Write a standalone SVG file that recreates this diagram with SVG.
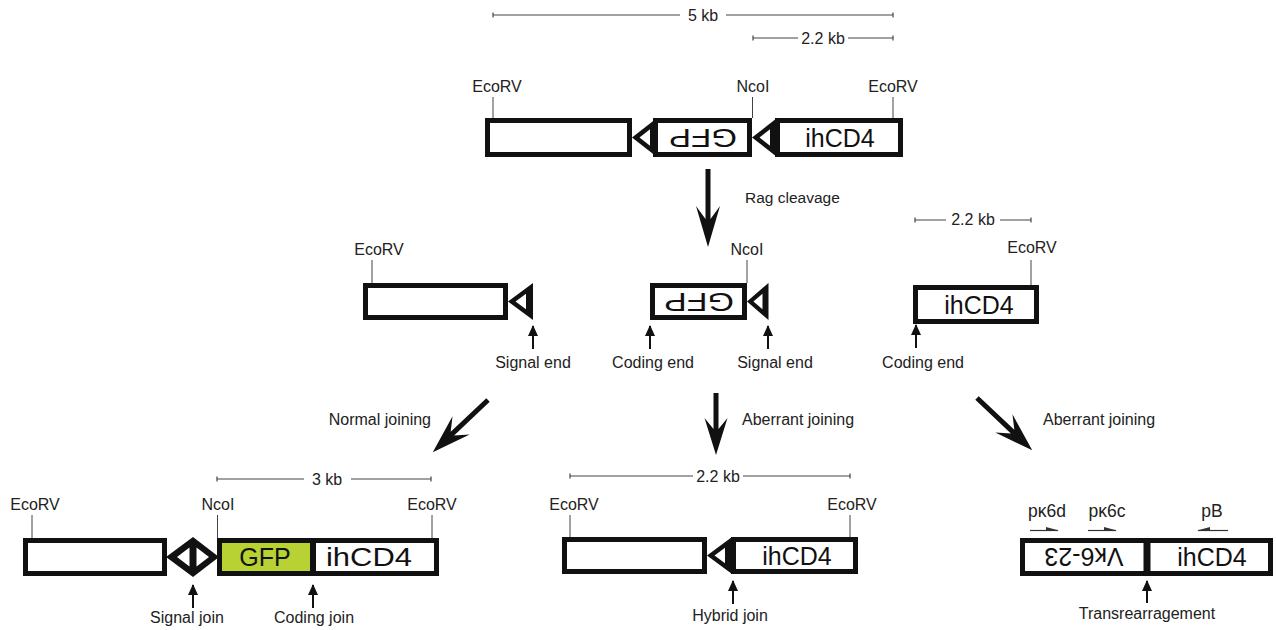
<svg xmlns="http://www.w3.org/2000/svg" width="1276" height="630" viewBox="0 0 1276 630">
<style>
text{font-family:"Liberation Sans",Arial,sans-serif;fill:#222;}
.lbl{font-size:16px;}
.sm{font-size:15.5px;}
.pr{font-size:17.5px;}
.big{font-size:25px;fill:#111;}
.box{fill:#fff;stroke:#111;stroke-width:5;}
.tick{stroke:#444;stroke-width:1;fill:none;}
.bar{stroke:#444;stroke-width:1.2;fill:none;}
.up{stroke:#111;stroke-width:2;fill:none;marker-end:url(#ah);}
.big-arrow{fill:#111;}
</style>
<defs>
<marker id="ah" markerUnits="userSpaceOnUse" markerWidth="11" markerHeight="11" refX="10" refY="5.5" orient="auto">
<path d="M0,0.5 L11,5.5 L0,10.5 Z" fill="#111"/>
</marker>
<g id="rss">
<polygon points="0,19.5 25,0 25,39" fill="#111"/>
<polygon points="7.5,19.5 18,11.3 18,27.7" fill="#fff"/>
</g>
</defs>

<!-- Top construct -->
<g id="scale-top">
<path class="bar" d="M493,15 H680 M726,15 H893 M493,12.5 V17.5 M893,12.5 V17.5"/>
<text class="lbl" x="703" y="21" text-anchor="middle">5 kb</text>
<path class="bar" d="M753,38 H798 M848,38 H893 M753,35.5 V40.5 M893,35.5 V40.5"/>
<text class="lbl" x="823" y="44" text-anchor="middle">2.2 kb</text>
</g>
<g id="top-construct">
<text class="lbl" x="497" y="92" text-anchor="middle">EcoRV</text>
<line class="tick" x1="493" y1="97" x2="493" y2="118"/>
<text class="lbl" x="753" y="92" text-anchor="middle">NcoI</text>
<line class="tick" x1="752.5" y1="97" x2="752.5" y2="118"/>
<text class="lbl" x="893" y="92" text-anchor="middle">EcoRV</text>
<line class="tick" x1="893" y1="97" x2="893" y2="118"/>
<rect class="box" x="487.5" y="120.5" width="142" height="34"/>
<rect class="box" x="655.5" y="120.5" width="94" height="34"/>
<rect class="box" x="777.5" y="120.5" width="123" height="34"/>
<use href="#rss" x="632" y="118"/>
<use href="#rss" x="752" y="118"/>
<text class="big" transform="translate(703,137.5) rotate(180)" y="9" text-anchor="middle" textLength="68" lengthAdjust="spacingAndGlyphs">GFP</text>
<text class="big" x="840" y="146.5" text-anchor="middle">ihCD4</text>
</g>

<!-- Connectors -->
<g id="connectors">
<path class="big-arrow" transform="translate(708,169)" d="M-2.5,0 L2.5,0 L2.5,50 L12,37 L0,78 L-12,37 L-2.5,50 Z"/>
<path class="big-arrow" transform="translate(488,400) rotate(46.6)" d="M-2.5,0 L2.5,0 L2.5,49 L12.5,37 L0,76 L-12.5,37 L-2.5,49 Z"/>
<path class="big-arrow" transform="translate(716,393)" d="M-2.5,0 L2.5,0 L2.5,36 L11.5,25 L0,62 L-11.5,25 L-2.5,36 Z"/>
<path class="big-arrow" transform="translate(977,398) rotate(-46.6)" d="M-2.5,0 L2.5,0 L2.5,49 L12.5,37 L0,76 L-12.5,37 L-2.5,49 Z"/>
</g>
<text class="sm" x="745" y="203">Rag cleavage</text>
<text class="lbl" x="431" y="425" text-anchor="end">Normal joining</text>
<text class="lbl" x="742" y="425">Aberrant joining</text>
<text class="lbl" x="1043" y="425">Aberrant joining</text>

<!-- Middle row -->
<g id="mid-left">
<text class="lbl" x="379" y="255" text-anchor="middle">EcoRV</text>
<line class="tick" x1="372" y1="260" x2="372" y2="283"/>
<rect class="box" x="365.5" y="285.5" width="140" height="32"/>
<use href="#rss" transform="translate(508,283) scale(1,0.949)"/>
<line class="up" x1="533" y1="349" x2="533" y2="326"/>
<text class="lbl" x="533" y="368" text-anchor="middle">Signal end</text>
</g>
<g id="mid-center">
<text class="lbl" x="747" y="255" text-anchor="middle">NcoI</text>
<line class="tick" x1="747" y1="260" x2="747" y2="283"/>
<rect class="box" x="652.5" y="285.5" width="92" height="32"/>
<use href="#rss" transform="translate(747,283) scale(0.86,0.949)"/>
<text class="big" transform="translate(699,301.5) rotate(180)" y="9" text-anchor="middle" textLength="70" lengthAdjust="spacingAndGlyphs">GFP</text>
<line class="up" x1="650" y1="349" x2="650" y2="326"/>
<text class="lbl" x="653" y="368" text-anchor="middle">Coding end</text>
<line class="up" x1="768" y1="349" x2="768" y2="326"/>
<text class="lbl" x="775" y="368" text-anchor="middle">Signal end</text>
</g>
<g id="mid-right">
<path class="bar" d="M915,220 H946 M1000,220 H1031 M915,217.5 V222.5 M1031,217.5 V222.5"/>
<text class="lbl" x="973" y="225" text-anchor="middle">2.2 kb</text>
<text class="lbl" x="1032" y="253" text-anchor="middle">EcoRV</text>
<line class="tick" x1="1031" y1="260" x2="1031" y2="286"/>
<rect class="box" x="915.5" y="287.5" width="121" height="34"/>
<text class="big" x="979" y="313.5" text-anchor="middle">ihCD4</text>
<line class="up" x1="916" y1="348" x2="916" y2="325"/>
<text class="lbl" x="923" y="368" text-anchor="middle">Coding end</text>
</g>

<!-- Bottom left -->
<g id="bottom-left">
<path class="bar" d="M217,479 H304 M351,479 H431 M217,476.5 V481.5 M431,476.5 V481.5"/>
<text class="lbl" x="327" y="485" text-anchor="middle">3 kb</text>
<text class="lbl" x="35" y="510" text-anchor="middle">EcoRV</text>
<line class="tick" x1="32" y1="515" x2="32" y2="538"/>
<text class="lbl" x="218" y="510" text-anchor="middle">NcoI</text>
<line class="tick" x1="217.5" y1="515" x2="217.5" y2="538"/>
<text class="lbl" x="432" y="510" text-anchor="middle">EcoRV</text>
<line class="tick" x1="432" y1="515" x2="432" y2="538"/>
<rect class="box" x="25.5" y="540.5" width="139" height="33"/>
<polygon points="166,557 193,537 219,557 193,577" fill="#111"/>
<polygon points="177,557 189.5,547.5 189.5,566.5" fill="#fff"/>
<polygon points="196.5,547.5 196.5,566.5 209,557" fill="#fff"/>
<rect class="box" x="219.5" y="540.5" width="217" height="33"/>
<rect x="222" y="543" width="91" height="28" fill="#b8d133"/>
<line x1="313" y1="538" x2="313" y2="576" stroke="#111" stroke-width="6"/>
<text class="big" x="265" y="566" text-anchor="middle">GFP</text>
<text class="big" x="369" y="566" text-anchor="middle" textLength="86" lengthAdjust="spacingAndGlyphs">ihCD4</text>
<line class="up" x1="193" y1="608" x2="193" y2="585"/>
<text class="lbl" x="187" y="623" text-anchor="middle">Signal join</text>
<line class="up" x1="313" y1="608" x2="313" y2="585"/>
<text class="lbl" x="314" y="623" text-anchor="middle">Coding join</text>
</g>

<!-- Bottom middle -->
<g id="bottom-middle">
<path class="bar" d="M570,476 H693 M743,476 H850 M570,473.5 V478.5 M850,473.5 V478.5"/>
<text class="lbl" x="718" y="482" text-anchor="middle">2.2 kb</text>
<text class="lbl" x="574" y="510" text-anchor="middle">EcoRV</text>
<line class="tick" x1="570" y1="515" x2="570" y2="537"/>
<text class="lbl" x="852" y="510" text-anchor="middle">EcoRV</text>
<line class="tick" x1="850" y1="515" x2="850" y2="537"/>
<rect class="box" x="564.5" y="539.5" width="140" height="32"/>
<rect class="box" x="733.5" y="539.5" width="122" height="32"/>
<use href="#rss" transform="translate(707,537) scale(1,0.949)"/>
<text class="big" x="797" y="564.5" text-anchor="middle">ihCD4</text>
<line class="up" x1="733" y1="604" x2="733" y2="581"/>
<text class="lbl" x="730" y="621" text-anchor="middle">Hybrid join</text>
</g>

<!-- Bottom right -->
<g id="bottom-right">
<text class="pr" x="1047" y="517" text-anchor="middle">pκ6d</text>
<text class="pr" x="1107" y="517" text-anchor="middle">pκ6c</text>
<text class="pr" x="1212" y="517" text-anchor="middle">pB</text>
<path d="M1030,530.5 H1058" stroke="#333" stroke-width="1.2"/>
<polygon points="1059,530.5 1046,527 1046,530.5" fill="#333"/>
<path d="M1088,530.5 H1116" stroke="#333" stroke-width="1.2"/>
<polygon points="1117,530.5 1104,527 1104,530.5" fill="#333"/>
<path d="M1198,530.5 H1228" stroke="#333" stroke-width="1.2"/>
<polygon points="1197,530.5 1210,527 1210,530.5" fill="#333"/>
<rect class="box" x="1022.5" y="540.5" width="248" height="33"/>
<line x1="1147" y1="538" x2="1147" y2="576" stroke="#111" stroke-width="7"/>
<text class="big" transform="translate(1084,557) rotate(180)" y="9" text-anchor="middle">Vκ6-23</text>
<text class="big" x="1212" y="566" text-anchor="middle">ihCD4</text>
<line class="up" x1="1147" y1="603" x2="1147" y2="581"/>
<text class="lbl" x="1147" y="619" text-anchor="middle">Transrearragement</text>
</g>
</svg>
